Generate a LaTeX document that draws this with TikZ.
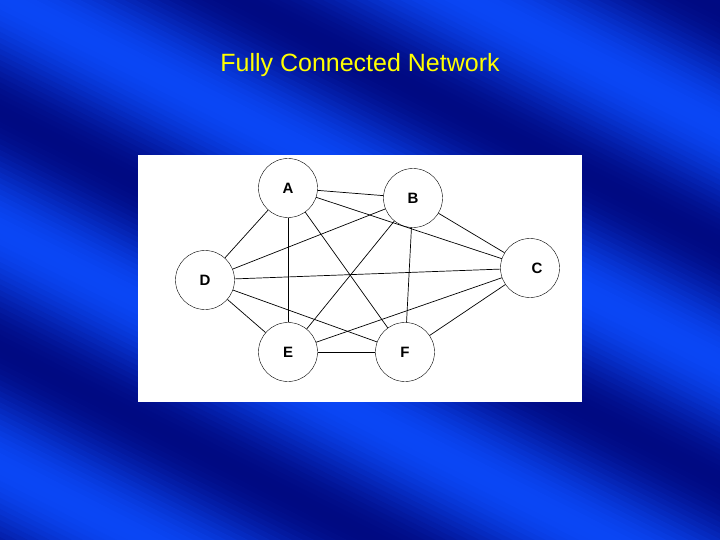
\documentclass[tikz,border=0pt]{standalone}
\usepackage{fontspec}
\setmainfont{Liberation Sans}
\definecolor{bgd}{RGB}{0,10,130}
\definecolor{bgl}{RGB}{10,70,245}
\begin{document}
\begin{tikzpicture}[x=1pt,y=-1pt,
  nd/.style={circle,draw=black,fill=white,minimum size=59pt,inner sep=0pt,font=\bfseries\fontsize{15}{15}\selectfont},
  ed/.style={draw=black,line width=0.7pt}]
\useasboundingbox (0,0) rectangle (720,540);
\begin{scope}
\clip (0,0) rectangle (720,540);
\fill[bgd] (0,0) rectangle (720,540);
\begin{scope}[shift={(0,115)},rotate=-27]
\foreach \i in {-110,...,110}{
  \pgfmathsetmacro{\p}{50-50*cos(\i*8.5714)}
  \fill[bgl!\p!bgd] (-900,\i*5-4) rectangle (1300,\i*5+4);
}
\end{scope}
\end{scope}
\fill[white] (138,155) rectangle (582,402);
\node[text={rgb,255:red,255;green,255;blue,0},font=\fontsize{25}{25}\selectfont] (t) at (360,65) {Fully Connected Network};
\node[nd] (A) at (288,188) {A};
\node[nd] (B) at (413,198) {B};
\node[nd] (C) at (530,268) {\hspace*{14pt}C};
\node[nd] (D) at (205,280) {D};
\node[nd] (E) at (288,352) {E};
\node[nd] (F) at (405,352) {F};
\foreach \a/\b in {A/B,A/D,A/E,A/F,A/C,B/C,B/D,B/E,B/F,D/C,D/E,D/F,E/F,E/C,F/C}
  \draw[ed] (\a) -- (\b);
\end{tikzpicture}
\end{document}
